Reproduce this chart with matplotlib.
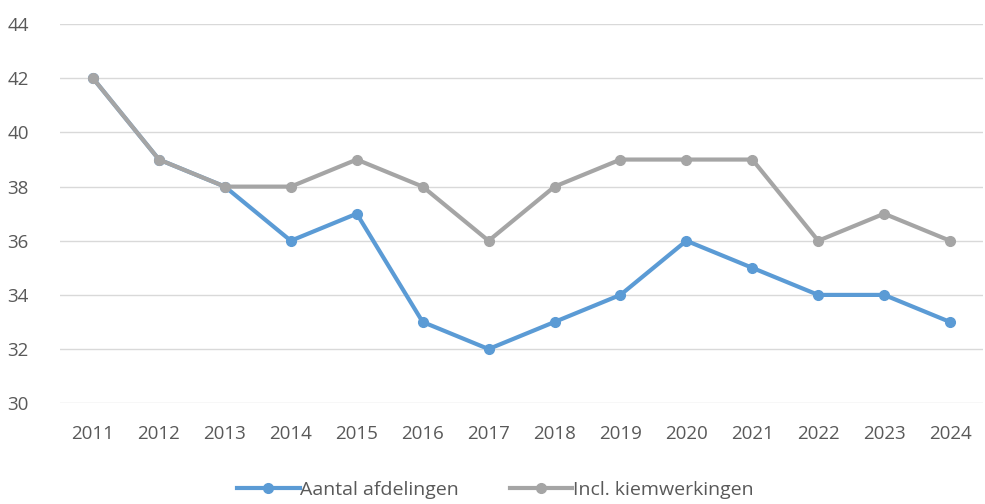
import matplotlib
matplotlib.use("Agg")
import matplotlib.pyplot as plt

years = ['2011', '2012', '2013', '2014', '2015', '2016', '2017',
         '2018', '2019', '2020', '2021', '2022', '2023', '2024']
aantal_afdelingen = [42, 39, 38, 36, 37, 33, 32, 33, 34, 36, 35, 34, 34, 33]
incl_kiemwerkingen = [42, 39, 38, 38, 39, 38, 36, 38, 39, 39, 39, 36, 37, 36]

plt.rcParams['font.family'] = ['Open Sans', 'DejaVu Sans']

fig = plt.figure(figsize=(9.85, 5.04), dpi=100)
ax = fig.add_axes([0.061, 0.2, 0.937, 0.752])

x = range(len(years))
ax.plot(x, aantal_afdelingen, color='#5B9BD5', lw=3, marker='o', ms=7,
        label='Aantal afdelingen', zorder=3)
ax.plot(x, incl_kiemwerkingen, color='#A5A5A5', lw=3, marker='o', ms=7,
        label='Incl. kiemwerkingen', zorder=4)

ax.set_xlim(-0.5, len(years) - 0.5)
ax.set_ylim(30, 44)
ax.set_yticks(range(30, 45, 2))
ax.set_xticks(list(x))
ax.set_xticklabels(years)
ax.grid(axis='y', color='#D9D9D9', lw=1)
ax.set_axisbelow(True)
for s in ax.spines.values():
    s.set_visible(False)
ax.tick_params(length=0, labelsize=13.5, labelcolor='#595959')
ax.tick_params(axis='x', pad=16)
ax.tick_params(axis='y', pad=38)
for lbl in ax.get_yticklabels():
    lbl.set_horizontalalignment('left')

fig.legend(loc='lower center', bbox_to_anchor=(0.503, -0.025), ncol=2,
           frameon=False, fontsize=14, labelcolor='#595959',
           handlelength=3.2, handletextpad=0.05, columnspacing=2.6)

fig.savefig('out.png', dpi=100)
